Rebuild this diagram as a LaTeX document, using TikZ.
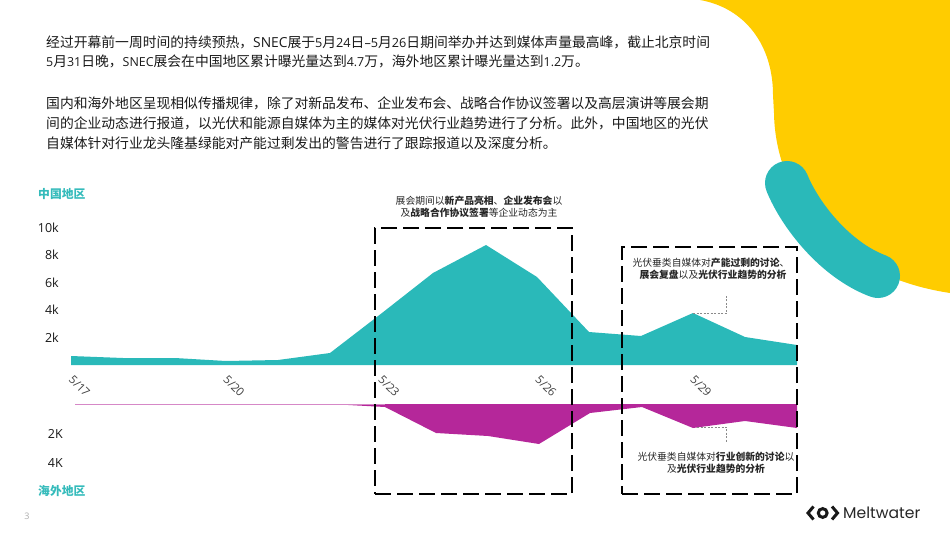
\documentclass[tikz,border=0pt]{standalone}
\usepackage{fontspec}
\setmainfont{Noto Sans CJK SC}
\newfontfamily\latfont{Open Sans}
\newfontfamily\latfontb[Scale=0.92]{Open Sans}
\newfontfamily\latfontc[Scale=0.9]{Open Sans}
\newfontfamily\logofont{Poppins}
\newcommand{\latn}[1]{{\latfont #1}}
\newcommand{\latb}[1]{{\latfontb #1}}
\newcommand{\latc}[1]{{\latfontc #1}}
\definecolor{mwteal}{HTML}{2AB9B9}
\definecolor{mwlabel}{HTML}{35BBBB}
\definecolor{mwyellow}{HTML}{FFCC00}
\definecolor{mwmag}{HTML}{B5279A}
\definecolor{mwgrey}{HTML}{8A8A8A}
\tikzset{
  x=1pt,y=-1pt,
  body/.style={anchor=west,inner sep=0pt,font=\fontsize{13.8}{16}\selectfont,text=black!90},
  regionlabel/.style={anchor=west,inner sep=0pt,font=\fontsize{11.8}{14}\selectfont\bfseries,text=mwlabel},
  axislabel/.style={anchor=east,inner sep=0pt,font=\latfont\fontsize{12.5}{15}\selectfont,text=black!90},
  datelabel/.style={inner sep=0pt,rotate=-45,font=\latfont\fontsize{11.5}{14}\selectfont,text=black!75},
  note/.style={inner sep=0pt,font=\fontsize{9.8}{12}\selectfont,text=black!85},
  framebox/.style={draw=black,line width=2pt,dash pattern=on 16pt off 6pt},
  leader/.style={draw=mwgrey,line width=0.7pt,dash pattern=on 2pt off 1.5pt},
}
\begin{document}
\begin{tikzpicture}
\useasboundingbox (0,0) rectangle (950,535);
% decorative shapes
\fill[mwyellow] (700,0) .. controls (745,8) and (773,45) .. (773,95)
  -- (774,113) .. controls (775,190) and (830,275) .. (950,293) -- (950,0) -- cycle;
\draw[mwteal,line width=44pt,line cap=round] (787,183) .. controls (800,215) and (835,260) .. (878,276);
% body text
\node[body] (p1) at (46,42) {经过开幕前一周时间的持续预热，\latn{SNEC}展于\latb{5}月\latb{24}日\latb{–5}月\latb{26}日期间举办并达到媒体声量最高峰，截止北京时间};
\node[body] (p2) at (46,61) {\latc{5}月\latc{31}日晚，\latc{SNEC}展会在中国地区累计曝光量达到\latc{4.7}万，海外地区累计曝光量达到\latc{1.2}万。};
\node[body] (p3) at (46,103) {国内和海外地区呈现相似传播规律，除了对新品发布、企业发布会、战略合作协议签署以及高层演讲等展会期};
\node[body] (p4) at (46,123) {间的企业动态进行报道，以光伏和能源自媒体为主的媒体对光伏行业趋势进行了分析。此外，中国地区的光伏};
\node[body] (p5) at (46,143) {自媒体针对行业龙头隆基绿能对产能过剩发出的警告进行了跟踪报道以及深度分析。};
% charts
\fill[mwteal] (71,356) -- (123,358) -- (175,358) -- (226,361) -- (278,360) -- (330,353) -- (382,313)
  -- (433,273) -- (486,245) -- (537,277) -- (589,332) -- (641,336) -- (693,313) -- (745,337) -- (797,345)
  -- (797,365) -- (71,365) -- cycle;
\fill[mwmag] (75,404) -- (330,404) -- (385,407) -- (436,433) -- (488,436) -- (539,444) -- (590,413)
  -- (642,407) -- (693,428) -- (745,421) -- (797,428) -- (797,404) -- cycle;
\draw[mwmag!55,line width=0.5pt] (75,404) -- (385,404);
% axis labels
\node[regionlabel] (cn) at (38,194.5) {中国地区};
\node[regionlabel] (os) at (38,491) {海外地区};
\node[axislabel] (y10) at (59,228) {10k};
\node[axislabel] (y8) at (59,255) {8k};
\node[axislabel] (y6) at (59,283) {6k};
\node[axislabel] (y4) at (59,310) {4k};
\node[axislabel] (y2) at (59,338) {2k};
\node[axislabel] (n2) at (63,433.5) {2K};
\node[axislabel] (n4) at (63,463) {4K};
\node[datelabel] (d17) at (79.5,386) {5/17};
\node[datelabel] (d20) at (234,386) {5/20};
\node[datelabel] (d23) at (389,386) {5/23};
\node[datelabel] (d26) at (546,386) {5/26};
\node[datelabel] (d29) at (701,386) {5/29};
% frames
\node[framebox,inner sep=0pt,minimum width=197pt,minimum height=266pt] (f1) at (473.5,361) {};
\node[framebox,inner sep=0pt,minimum width=175pt,minimum height=247pt] (f2) at (709.5,370.5) {};
% notes
\node[note] (t1a) at (479,201) {展会期间以\textbf{新产品亮相}、\textbf{企业发布会}以};
\node[note] (t1b) at (479,213) {及\textbf{战略合作协议签署}等企业动态为主};
\node[note] (t2a) at (711,263) {光伏垂类自媒体对\textbf{产能过剩的讨论}、};
\node[note] (t2b) at (713,275) {\textbf{展会复盘}以及\textbf{光伏行业趋势的分析}};
\node[note] (t3a) at (716,457) {光伏垂类自媒体对\textbf{行业创新的讨论}以};
\node[note] (t3b) at (716,469) {及\textbf{光伏行业趋势的分析}};
% leaders
\coordinate (la) at (693,313);
\coordinate (lb) at (726.5,296);
\coordinate (lc) at (697,427);
\coordinate (ld) at (726.5,442);
\draw[leader] (la) -| (lb);
\draw[leader] (lc) -| (ld);
% footer
\node[inner sep=0pt,font=\latfont\fontsize{9}{11}\selectfont,text=mwgrey!70] (pg) at (27,516) {3};
\draw[black!90,line width=3pt,line join=miter] (813.5,506.5) -- (808,513) -- (813.5,519.5);
\draw[black!90,line width=3pt,line join=miter] (832,506.5) -- (837.5,513) -- (832,519.5);
\draw[black!90,line width=3pt] (822.7,513) circle (4.4);
\node[anchor=west,inner sep=0pt,font=\logofont\fontsize{15.6}{18}\selectfont,text=black!85] (logo) at (843,513) {Meltwater};
\end{tikzpicture}
\end{document}
